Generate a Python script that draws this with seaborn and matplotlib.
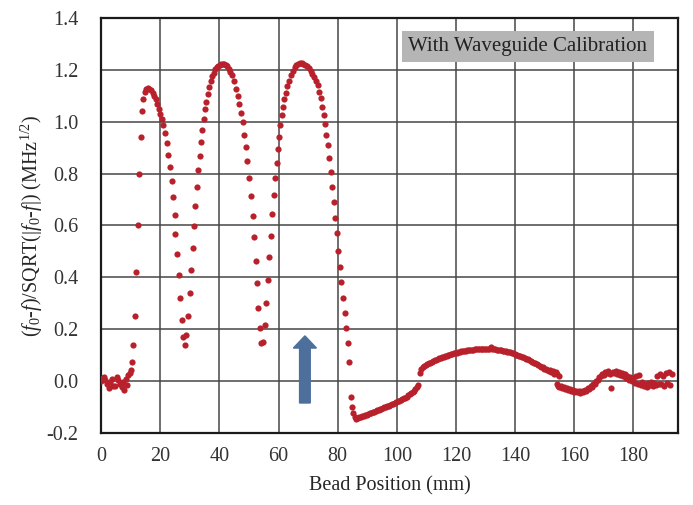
import numpy as np
import pandas as pd
import matplotlib
matplotlib.use("Agg")
import matplotlib.pyplot as plt
import seaborn as sns
from matplotlib.patches import FancyArrow

# --- данные (позиция бусины, мм / сдвиг частоты) ---
start_x = [0.0, 0.5, 1.0, 1.4, 2.0, 2.5, 3.0, 3.5, 4.0, 4.7, 5.3, 5.8, 6.3, 7.0,
           7.5, 7.8, 8.3, 8.7, 9.2, 9.6, 10.0]
start_y = [0.00, 0.012, 0.017, 0.004, -0.012, -0.028, -0.004, 0.008, -0.020, -0.020,
           0.017, 0.004, -0.010, -0.022, -0.005, -0.035, 0.006, -0.015, 0.023, 0.030, 0.042]

cavity_x = [10.4, 10.9, 11.3, 11.8, 12.3, 12.7, 13.3, 13.8, 14.3, 14.8, 15.3, 15.8,
            16.3, 16.9, 17.4, 17.9, 18.4, 18.9, 19.4, 19.9, 20.5, 21.05, 21.6, 22.2,
            22.7, 23.3, 23.9, 24.4, 24.8, 25.1, 25.7, 26.2, 26.7, 27.3, 27.8, 28.3,
            28.8, 29.3, 29.9, 30.4, 30.9, 31.4, 31.9, 32.3, 32.8, 33.3, 33.8, 34.2,
            34.7, 35.2, 35.6, 36.0, 36.5, 37.1, 37.6, 38.1, 38.6, 39.1, 39.6, 40.1,
            40.6, 41.1, 41.6, 42.1, 42.6, 43.1, 43.6, 44.2, 44.9, 45.6, 46.2, 46.7,
            47.3, 47.9, 48.4, 48.9, 49.4, 50.0, 50.6, 51.2, 51.7, 52.2, 52.7, 53.2,
            53.7, 54.2, 54.8, 55.3, 55.8, 56.3, 56.8, 57.3, 57.8, 58.3, 58.8, 59.3,
            59.8, 60.2, 60.6, 61.0, 61.5, 62.0, 62.5, 63.0, 63.6, 64.2, 64.8, 65.4,
            66.0, 66.6, 67.2, 67.8, 68.4, 69.0, 69.6, 70.2, 70.8, 71.4, 72.0, 72.6,
            73.2, 73.7, 74.2, 74.7, 75.2, 75.7, 76.2, 76.7, 77.2, 77.7, 78.2, 78.7,
            79.2, 79.7, 80.2, 80.7, 81.2, 81.8, 82.3, 82.9, 83.4, 83.9, 84.4, 84.8,
            85.3, 85.8, 86.3, 86.8]
cavity_y = [0.075, 0.14, 0.25, 0.42, 0.60, 0.80, 0.94, 1.04, 1.09, 1.115, 1.128, 1.13,
            1.127, 1.122, 1.112, 1.100, 1.087, 1.070, 1.048, 1.030, 1.010, 0.988, 0.956, 0.918,
            0.873, 0.825, 0.770, 0.708, 0.640, 0.568, 0.490, 0.408, 0.320, 0.235, 0.171, 0.139,
            0.178, 0.25, 0.34, 0.43, 0.515, 0.598, 0.676, 0.748, 0.815, 0.869, 0.924, 0.969,
            1.01, 1.049, 1.078, 1.108, 1.134, 1.156, 1.175, 1.190, 1.202, 1.211, 1.217, 1.221,
            1.224, 1.225, 1.224, 1.220, 1.214, 1.205, 1.194, 1.180, 1.156, 1.126, 1.098, 1.068,
            1.034, 1.001, 0.950, 0.902, 0.847, 0.783, 0.712, 0.637, 0.557, 0.464, 0.377, 0.283,
            0.206, 0.146, 0.152, 0.216, 0.302, 0.390, 0.480, 0.561, 0.645, 0.716, 0.785, 0.843,
            0.895, 0.943, 0.988, 1.027, 1.059, 1.088, 1.113, 1.137, 1.158, 1.180, 1.197, 1.210,
            1.218, 1.223, 1.226, 1.226, 1.224, 1.220, 1.214, 1.206, 1.196, 1.184, 1.172, 1.158,
            1.143, 1.117, 1.091, 1.059, 1.027, 0.992, 0.950, 0.911, 0.860, 0.808, 0.750, 0.690,
            0.628, 0.570, 0.502, 0.439, 0.381, 0.319, 0.261, 0.203, 0.148, 0.075, -0.061, -0.099,
            -0.125, -0.140, -0.146, -0.144]

ramp_x = [87.3, 87.8, 88.3, 88.8, 89.3, 89.8, 90.3, 90.8, 91.3, 91.8, 92.3, 92.8,
          93.3, 93.8, 94.3, 94.8, 95.3, 95.8, 96.3, 96.8, 97.3, 97.8, 98.3, 98.8,
          99.3, 99.8, 100.3, 100.8, 101.3, 101.8, 102.3, 102.8, 103.3, 103.8, 104.3,
          104.8, 105.3, 105.8, 106.3, 106.8, 107.3]
ramp_y = [-0.140, -0.138, -0.135, -0.134, -0.131, -0.130, -0.127, -0.125, -0.122, -0.121,
          -0.118, -0.116, -0.114, -0.112, -0.110, -0.107, -0.105, -0.102, -0.100, -0.098,
          -0.095, -0.092, -0.090, -0.087, -0.085, -0.082, -0.079, -0.077, -0.074, -0.070,
          -0.067, -0.064, -0.060, -0.056, -0.052, -0.048, -0.043, -0.038, -0.030, -0.022,
          -0.015]

arc_x = [107.8, 108.3, 108.8, 109.3, 109.8, 110.3, 110.8, 111.3, 111.8, 112.3, 112.8,
         113.3, 113.8, 114.3, 114.8, 115.3, 115.8, 116.3, 116.8, 117.3, 117.8, 118.3,
         118.8, 119.3, 119.8, 120.3, 120.8, 121.3, 121.8, 122.3, 122.8, 123.3, 123.8,
         124.3, 124.8, 125.3, 125.8, 126.3, 126.8, 127.3, 127.8, 128.3, 128.8, 129.3,
         129.8, 130.3, 130.8, 131.3, 131.8, 132.3, 132.8, 133.3, 133.8, 134.3, 134.8,
         135.3, 135.8, 136.3, 136.8, 137.3, 137.8, 138.3, 138.8, 139.3, 139.8, 140.3,
         140.8, 141.3, 141.8, 142.3, 142.8, 143.3, 143.8, 144.3, 144.8, 145.3, 145.8,
         146.3, 146.8, 147.3, 147.8, 148.3, 148.8, 149.3, 149.8, 150.3, 150.8, 151.3,
         151.8, 152.3, 152.8, 153.3, 153.8, 154.3, 154.8]
arc_y = [0.030, 0.045, 0.052, 0.057, 0.061, 0.065, 0.068, 0.071, 0.074, 0.077, 0.080,
         0.082, 0.085, 0.087, 0.089, 0.091, 0.093, 0.095, 0.097, 0.099, 0.101, 0.103,
         0.104, 0.106, 0.108, 0.109, 0.111, 0.112, 0.114, 0.115, 0.116, 0.117, 0.118,
         0.119, 0.120, 0.121, 0.121, 0.122, 0.122, 0.123, 0.123, 0.123, 0.124, 0.124,
         0.124, 0.124, 0.124, 0.124, 0.130, 0.123, 0.122, 0.122, 0.121, 0.120, 0.119,
         0.118, 0.117, 0.116, 0.114, 0.113, 0.111, 0.110, 0.108, 0.106, 0.104, 0.102,
         0.100, 0.098, 0.096, 0.093, 0.091, 0.088, 0.086, 0.083, 0.080, 0.077, 0.074,
         0.071, 0.068, 0.065, 0.062, 0.058, 0.055, 0.052, 0.048, 0.045, 0.041, 0.038,
         0.044, 0.034, 0.038, 0.028, 0.035, 0.025, 0.020]

tail_x = [154.0, 154.5, 155.0, 155.5, 156.0, 156.5, 157.0, 157.5, 158.0, 158.5, 159.0,
          159.5, 160.0, 160.5, 161.0, 161.5, 162.0, 162.5, 163.0, 163.5, 164.0, 164.5,
          165.0, 165.5, 166.0, 166.5, 167.0, 167.5, 168.0, 168.5, 169.0, 169.5, 170.0,
          170.5, 171.0, 171.5, 172.0, 172.5, 173.0, 173.5, 174.0, 174.5, 175.0, 175.5,
          176.0, 176.5, 177.0, 177.5, 178.0, 178.5, 179.0, 179.5, 180.0, 180.5, 181.0,
          181.5, 182.0, 182.5, 183.0, 183.5, 184.0, 184.5, 185.0, 185.5, 186.0, 186.5,
          187.0, 187.5, 188.0, 188.5, 189.0, 189.5, 190.0, 190.5, 191.0, 191.5, 192.0,
          192.5, 193.0]
tail_y = [-0.012, -0.020, -0.024, -0.018, -0.028, -0.022, -0.030, -0.026, -0.034, -0.030,
          -0.038, -0.033, -0.042, -0.037, -0.044, -0.040, -0.046, -0.038, -0.043, -0.034,
          -0.038, -0.028, -0.030, -0.020, -0.022, -0.010, -0.012, 0.000, 0.005, 0.014,
          0.020, 0.028, 0.024, 0.034, 0.030, 0.038, 0.026, -0.028, 0.036, 0.032, 0.040,
          0.028, 0.035, 0.022, 0.030, 0.018, 0.026, 0.012, 0.020, 0.004, 0.015, 0.000,
          0.010, -0.008, 0.020, -0.012, 0.024, -0.015, -0.005, -0.020, -0.010, -0.022,
          -0.008, -0.016, -0.004, -0.020, -0.006, -0.014, 0.020, -0.010, 0.028, -0.012,
          0.018, -0.018, 0.030, -0.008, 0.034, -0.014, 0.026]

x_ticks = [0, 20, 40, 60, 80, 100, 120, 140, 160, 180]
y_ticks = [-0.2, 0.0, 0.2, 0.4, 0.6, 0.8, 1.0, 1.2, 1.4]

df = pd.DataFrame({
    "pos": start_x + cavity_x + ramp_x + arc_x + tail_x,
    "val": start_y + cavity_y + ramp_y + arc_y + tail_y,
})

sns.set_theme(style="white")
plt.rcParams["font.family"] = ["Liberation Serif", "DejaVu Serif"]
plt.rcParams["mathtext.fontset"] = "custom"
plt.rcParams["mathtext.rm"] = "Liberation Serif"
plt.rcParams["mathtext.it"] = "Liberation Serif:italic"

fig, ax = plt.subplots(figsize=(6.93, 5.05), dpi=100)
fig.subplots_adjust(left=0.146, right=0.978, bottom=0.143, top=0.964)

sns.scatterplot(data=df, x="pos", y="val", ax=ax, color="#b8212b",
                s=20, linewidth=0, zorder=3)

ax.set_xlim(0, 195)
ax.set_ylim(-0.2, 1.4)
ax.set_xticks(x_ticks)
ax.set_yticks(y_ticks)
ax.set_xticklabels([str(t) for t in x_ticks])
ax.set_yticklabels([f"{t:.1f}" for t in y_ticks])
ax.tick_params(length=0, labelsize=14.5, colors="#333333")
ax.tick_params(axis="y", pad=16.5)
ax.tick_params(axis="x", pad=10)
ax.grid(True, color="#474747", linewidth=1.1)
ax.set_axisbelow(True)
for sp in ax.spines.values():
    sp.set_color("#1a1a1a")
    sp.set_linewidth(1.6)

ax.set_xlabel("Bead Position (mm)", fontsize=14.5, color="#262626")
ax.set_ylabel(r"($f_0$-$f$)/SQRT(|$f_0$-$f$|) (MHz$^{1/2}$)", fontsize=14.5,
              color="#262626")
ax.xaxis.set_label_coords(0.5, -0.106)
ax.yaxis.set_label_coords(-0.097, 0.5)

ax.text(144.3, 1.29, "With Waveguide Calibration", ha="center", va="center",
        fontsize=15, color="#222222",
        bbox=dict(boxstyle="square,pad=0.3", facecolor="#b5b5b5", edgecolor="none"))

# синяя стрелка
ax.add_patch(FancyArrow(68.9, -0.085, 0, 0.259, width=3.6, head_width=7.8,
                        head_length=0.047, length_includes_head=True,
                        color="#4d6f9b", zorder=4))

fig.savefig("out.png", dpi=100)
